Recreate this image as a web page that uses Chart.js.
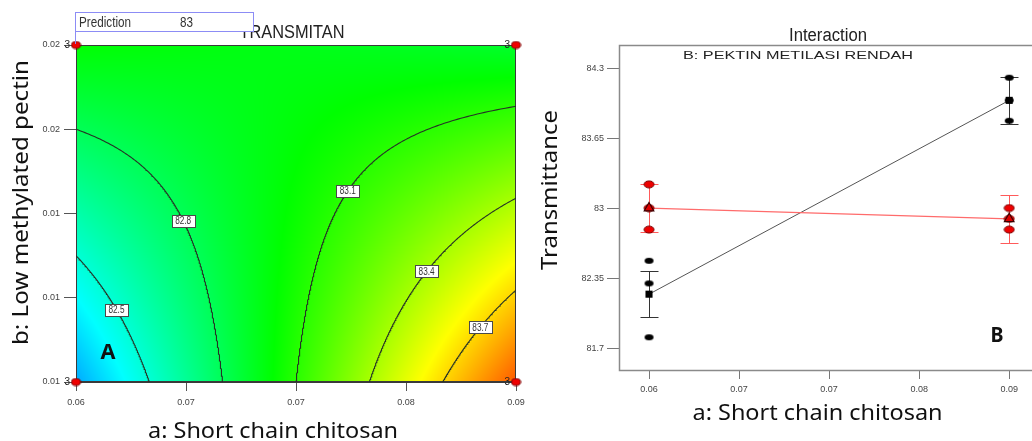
<!DOCTYPE html>
<html><head><meta charset="utf-8">
<script src="https://cdn.jsdelivr.net/npm/chart.js@4.4.0/dist/chart.umd.min.js"></script>
<style>
html,body{margin:0;padding:0;background:#fff;}
#wrap{position:relative;width:1032px;height:441px;overflow:hidden;background:#fff;}
#c1{position:absolute;left:0;top:0;}
#c2{position:absolute;left:520px;top:0;}
</style></head><body>
<div id="wrap"><canvas id="c1" width="545" height="441"></canvas><canvas id="c2" width="512" height="441"></canvas></div>
<script>
// ---------------- data ----------------
const chitosanLevels = [0.06, 0.09];          // a: Short chain chitosan (low, high)
const pectinLevels = [0.01, 0.02];            // b: Low methylated pectin (low, high)
const meanPectinLow = [82.2, 84.0];           // black series (B low) at a = 0.06, 0.09
const meanPectinHigh = [83.0, 82.9];          // red series (B high) at a = 0.06, 0.09
const obsPectinLow06 = [82.51, 82.30, 81.80];
const obsPectinLow09 = [84.21, 84.00, 83.81];
const obsPectinHigh06 = [83.22, 83.00, 82.80];
const obsPectinHigh09 = [83.00, 82.90, 82.80];
const lsdPectinLow = [0.215, 0.22];
const lsdPectinHigh = [0.22, 0.225];
const contourLevels = [82.5, 82.8, 83.1, 83.4, 83.7];
const contourLabelPectin = [0.01215, 0.01479, 0.01567, 0.01328, 0.01163];
const xTickValues = [0.06, 0.0675, 0.075, 0.0825, 0.09];
const xTickLabels = ['0.06', '0.07', '0.07', '0.08', '0.09'];
const yTickValuesA = [0.01, 0.0125, 0.015, 0.0175, 0.02];
const yTickLabelsA = ['0.01', '0.01', '0.01', '0.02', '0.02'];
const yTickValuesB = [81.7, 82.35, 83, 83.65, 84.3];
const yTickLabelsB = ['81.7', '82.35', '83', '83.65', '84.3'];
const predictionValue = '83';
// --------------------------------------

const allObs = [].concat(obsPectinLow06, obsPectinLow09, obsPectinHigh06, obsPectinHigh09);
const cMin = Math.min(...allObs), cMax = Math.max(...allObs);

function surface(a, b) {
  const u = (a - chitosanLevels[0]) / (chitosanLevels[1] - chitosanLevels[0]);
  const v = (b - pectinLevels[0]) / (pectinLevels[1] - pectinLevels[0]);
  return (1-u)*(1-v)*meanPectinLow[0] + u*(1-v)*meanPectinLow[1] + (1-u)*v*meanPectinHigh[0] + u*v*meanPectinHigh[1];
}
function chitosanForLevel(level, b) {
  const v = (b - pectinLevels[0]) / (pectinLevels[1] - pectinLevels[0]);
  const c0 = (1-v)*meanPectinLow[0] + v*meanPectinHigh[0];
  const c1 = (1-v)*(meanPectinLow[1]-meanPectinLow[0]) + v*(meanPectinHigh[1]-meanPectinHigh[0]);
  if (Math.abs(c1) < 1e-9) return null;
  const u = (level - c0) / c1;
  return chitosanLevels[0] + u*(chitosanLevels[1]-chitosanLevels[0]);
}
function contourPoints(level) {
  const pts = []; const n = 400; let started = false;
  for (let k = 0; k <= n; k++) {
    const b = pectinLevels[0] + (pectinLevels[1]-pectinLevels[0])*k/n;
    const a = chitosanForLevel(level, b);
    const ok = a !== null && a >= 0.057 && a <= 0.093;
    if (ok) { pts.push({x:a, y:b}); started = true; }
    else if (started) break;
  }
  return pts;
}
function colorFor(v) {
  let t = (v - cMin) / (cMax - cMin); t = Math.max(0, Math.min(1, t));
  const stops = [[0,0,255],[0,255,255],[0,255,0],[255,255,0],[255,0,0]];
  const s = t*4; const i = Math.min(3, Math.floor(s)); const f = s - i;
  return stops[i].map((c,k) => Math.round(c + (stops[i+1][k]-c)*f));
}
function sprite(w, h, fill, stroke) {
  const c = document.createElement('canvas'); c.width = w+2; c.height = h+2;
  const x = c.getContext('2d'); x.beginPath();
  x.ellipse((w+2)/2, (h+2)/2, w/2, h/2, 0, 0, Math.PI*2);
  x.fillStyle = fill; x.fill();
  if (stroke) { x.strokeStyle = stroke; x.lineWidth = 1; x.stroke(); }
  return c;
}
function fitText(ctx, text, x, y, font, color, width, align, rot) {
  ctx.save(); ctx.font = font; ctx.fillStyle = color; ctx.textBaseline = 'alphabetic';
  ctx.textAlign = align || 'center';
  const w = ctx.measureText(text).width;
  ctx.translate(x, y); if (rot) ctx.rotate(rot);
  if (width) ctx.scale(width / w, 1);
  ctx.fillText(text, 0, 0); ctx.restore();
}
const tickFont = {family: 'Liberation Sans', size: 9};
const bigFont = '"Noto Sans"';

function fixedTicks(values) { return s => { s.ticks = values.map(v => ({value: v})); }; }

// ---------- left: contour plot ----------
const heatmapPlugin = {
  id: 'heat',
  beforeDatasetsDraw(chart) {
    const {ctx, chartArea: ca, scales: {x, y}} = chart;
    const w = Math.round(ca.right - ca.left), h = Math.round(ca.bottom - ca.top);
    const off = document.createElement('canvas'); off.width = w; off.height = h;
    const octx = off.getContext('2d'); const img = octx.createImageData(w, h);
    for (let j = 0; j < h; j++) {
      const b = y.getValueForPixel(ca.top + j + 0.5);
      for (let i = 0; i < w; i++) {
        const a = x.getValueForPixel(ca.left + i + 0.5);
        const c = colorFor(surface(a, b)); const k = (j*w + i)*4;
        img.data[k] = c[0]; img.data[k+1] = c[1]; img.data[k+2] = c[2]; img.data[k+3] = 255;
      }
    }
    octx.putImageData(img, 0, 0);
    ctx.drawImage(off, ca.left, ca.top);
    ctx.save(); ctx.strokeStyle = '#3a3a3a'; ctx.lineWidth = 1;
    ctx.strokeRect(Math.round(ca.left)+0.5, Math.round(ca.top)+0.5, w-1, h-1);
    ctx.restore();
  },
  afterDatasetsDraw(chart) {
    const {ctx, scales: {x, y}} = chart;
    contourLevels.forEach((lv, i) => {
      const b = contourLabelPectin[i]; const a = chitosanForLevel(lv, b);
      const px = x.getPixelForValue(a), py = y.getPixelForValue(b);
      ctx.save();
      ctx.fillStyle = '#fff'; ctx.strokeStyle = '#4a4a4a'; ctx.lineWidth = 1;
      const bx = Math.round(px - 11.5) + 0.5, by = Math.round(py - 6) + 0.5;
      ctx.fillRect(bx, by, 23, 12); ctx.strokeRect(bx, by, 23, 12);
      ctx.restore();
      fitText(ctx, lv.toFixed(1), px, py + 3.5, '10px Liberation Sans', '#333', 16, 'center');
    });
    [[chitosanLevels[0], pectinLevels[1], obsPectinHigh06.length],
     [chitosanLevels[1], pectinLevels[1], obsPectinHigh09.length],
     [chitosanLevels[0], pectinLevels[0], obsPectinLow06.length],
     [chitosanLevels[1], pectinLevels[0], obsPectinLow09.length]].forEach(p => {
      const px = x.getPixelForValue(p[0]), py = y.getPixelForValue(p[1]);
      fitText(ctx, String(p[2]), px - 6, py + 3, '10px Liberation Sans', '#222', null, 'right');
    });
  },
  afterDraw(chart) {
    const ctx = chart.ctx;
    fitText(ctx, 'TRANSMITAN', 292, 38, '18px Liberation Sans', '#222', 105, 'center');
    ctx.save();
    ctx.fillStyle = '#fff'; ctx.fillRect(76, 12, 178, 19);
    ctx.strokeStyle = '#8c8cf5'; ctx.lineWidth = 1;
    ctx.strokeRect(75.5, 12.5, 178, 19);
    ctx.beginPath(); ctx.moveTo(75.5, 31); ctx.lineTo(75.5, 44); ctx.stroke();
    ctx.restore();
    fitText(ctx, 'Prediction', 79, 27, '15px Liberation Sans', '#333', 52, 'left');
    fitText(ctx, predictionValue, 180, 27, '15px Liberation Sans', '#333', 13, 'left');
    fitText(ctx, 'b: Low methylated pectin', 28, 202.5, '22px ' + bigFont, '#111', 285, 'center', -Math.PI/2);
    fitText(ctx, 'a: Short chain chitosan', 273, 438, '22px ' + bigFont, '#111', 250, 'center');
    fitText(ctx, 'A', 108, 359, 'bold 22px ' + bigFont, '#111', 15, 'center');
  }
};

const contourDatasets = contourLevels.map((lv, i) => ({
  label: 'Transmitan ' + lv,
  data: contourPoints(lv),
  showLine: true, pointRadius: 0, borderColor: '#263326', borderWidth: 1.1, order: 2 + i
}));
const designDataset = {
  label: 'Design points',
  data: [
    {x: chitosanLevels[0], y: pectinLevels[0]}, {x: chitosanLevels[1], y: pectinLevels[0]},
    {x: chitosanLevels[0], y: pectinLevels[1]}, {x: chitosanLevels[1], y: pectinLevels[1]}
  ],
  pointStyle: sprite(9, 7, '#ee0000', '#7a0000'), pointRadius: 5, clip: false, order: 0
};

function makeLeft() {
  new Chart(document.getElementById('c1'), {
    type: 'scatter',
    data: {datasets: [designDataset, ...contourDatasets]},
    options: {
      responsive: false, animation: false, devicePixelRatio: 1, events: [],
      layout: {padding: {left: 0, top: 45, right: 29, bottom: 0}, autoPadding: false},
      plugins: {legend: {display: false}, tooltip: {enabled: false}, title: {display: false}},
      scales: {
        x: {
          type: 'linear', min: chitosanLevels[0], max: chitosanLevels[1],
          afterBuildTicks: fixedTicks(xTickValues),
          afterFit: s => { s.height = 59; s.paddingLeft = 0; s.paddingRight = 0; },
          ticks: {callback: (v, i) => xTickLabels[i], font: tickFont, color: '#444', padding: 6, maxRotation: 0, autoSkip: false},
          grid: {drawOnChartArea: false, drawTicks: true, tickLength: 9, color: '#555'},
          border: {display: true, color: '#3a3a3a'}
        },
        y: {
          type: 'linear', min: pectinLevels[0], max: pectinLevels[1],
          afterBuildTicks: fixedTicks(yTickValuesA),
          afterFit: s => { s.width = 76; s.paddingTop = 0; s.paddingBottom = 0; },
          ticks: {callback: (v, i) => yTickLabelsA[i], font: tickFont, color: '#444', padding: 4, autoSkip: false},
          grid: {drawOnChartArea: false, drawTicks: true, tickLength: 12, color: '#555'},
          border: {display: true, color: '#3a3a3a'}
        }
      }
    },
    plugins: [heatmapPlugin]
  });
}

// ---------- right: interaction plot ----------
const interactionPlugin = {
  id: 'inter',
  beforeDatasetsDraw(chart) {
    const {ctx, chartArea: ca, scales: {x, y}} = chart;
    ctx.save(); ctx.strokeStyle = '#8a8a8a'; ctx.lineWidth = 1.5;
    ctx.beginPath();
    ctx.moveTo(chart.width, ca.top + 0.5); ctx.lineTo(ca.left + 0.5, ca.top + 0.5);
    ctx.lineTo(ca.left + 0.5, ca.bottom + 0.5); ctx.lineTo(chart.width, ca.bottom + 0.5);
    ctx.stroke(); ctx.restore();
    const bars = [
      [meanPectinLow, lsdPectinLow, '#333333', 1],
      [meanPectinHigh, lsdPectinHigh, '#ff5a5a', 1]
    ];
    bars.forEach(([means, lsd, col, lw]) => {
      means.forEach((m, i) => {
        const px = Math.round(x.getPixelForValue(chitosanLevels[i])) + 0.5;
        const yt = Math.round(y.getPixelForValue(m + lsd[i])) + 0.5;
        const yb = Math.round(y.getPixelForValue(m - lsd[i])) + 0.5;
        ctx.save(); ctx.strokeStyle = col; ctx.lineWidth = lw; ctx.beginPath();
        ctx.moveTo(px, yt); ctx.lineTo(px, yb);
        ctx.moveTo(px - 9, yt); ctx.lineTo(px + 9, yt);
        ctx.moveTo(px - 9, yb); ctx.lineTo(px + 9, yb);
        ctx.stroke(); ctx.restore();
      });
    });
  },
  afterDraw(chart) {
    const ctx = chart.ctx;
    fitText(ctx, 'Interaction', 308, 41, '18px Liberation Sans', '#222', 78, 'center');
    fitText(ctx, 'B: PEKTIN METILASI RENDAH', 278, 59, '11px Liberation Sans', '#222', 230, 'center');
    fitText(ctx, 'Transmittance', 37, 190, '22px ' + bigFont, '#111', 160, 'center', -Math.PI/2);
    fitText(ctx, 'a: Short chain chitosan', 297.5, 420, '22px ' + bigFont, '#111', 250, 'center');
    fitText(ctx, 'B', 477, 342, 'bold 22px ' + bigFont, '#111', 13, 'center');
  }
};

function obsPoints(level, vals) { return vals.map(v => ({x: level, y: v})); }

function makeRight() {
  new Chart(document.getElementById('c2'), {
    type: 'scatter',
    data: {datasets: [
      {label: 'B+ mean', data: meanPectinHigh.map((m, i) => ({x: chitosanLevels[i], y: m})),
       pointStyle: 'triangle', pointRadius: 5.5, backgroundColor: '#e00000', borderColor: '#3a0000', borderWidth: 1.2, order: 0},
      {label: 'B+ runs', data: obsPoints(chitosanLevels[0], obsPectinHigh06).concat(obsPoints(chitosanLevels[1], obsPectinHigh09)),
       pointStyle: sprite(10, 7, '#ee0000', '#7a0000'), pointRadius: 5, order: 1},
      {label: 'B- mean', data: meanPectinLow.map((m, i) => ({x: chitosanLevels[i], y: m})),
       pointStyle: 'rect', pointRadius: 5, backgroundColor: '#000', borderColor: '#000', borderWidth: 0, order: 2},
      {label: 'B- runs', data: obsPoints(chitosanLevels[0], obsPectinLow06).concat(obsPoints(chitosanLevels[1], obsPectinLow09)),
       pointStyle: sprite(9, 6, '#000', null), pointRadius: 5, order: 3},
      {label: 'B+ line', data: meanPectinHigh.map((m, i) => ({x: chitosanLevels[i], y: m})),
       showLine: true, pointRadius: 0, borderColor: '#ff6b6b', borderWidth: 1.3, order: 4},
      {label: 'B- line', data: meanPectinLow.map((m, i) => ({x: chitosanLevels[i], y: m})),
       showLine: true, pointRadius: 0, borderColor: '#555', borderWidth: 1, order: 5}
    ]},
    options: {
      responsive: false, animation: false, devicePixelRatio: 1, events: [],
      layout: {padding: {left: 0, top: 45, right: 0, bottom: 0}, autoPadding: false},
      plugins: {legend: {display: false}, tooltip: {enabled: false}, title: {display: false}},
      scales: {
        x: {
          type: 'linear', min: 0.0575, max: 0.0919,
          afterBuildTicks: fixedTicks(xTickValues),
          afterFit: s => { s.height = 71; s.paddingLeft = 0; s.paddingRight = 0; },
          ticks: {callback: (v, i) => xTickLabels[i], font: tickFont, color: '#444', padding: 5, maxRotation: 0, autoSkip: false},
          grid: {drawOnChartArea: false, drawTicks: true, tickLength: 9, color: '#777'},
          border: {display: false}
        },
        y: {
          type: 'linear', min: 81.496, max: 84.514,
          afterBuildTicks: fixedTicks(yTickValuesB),
          afterFit: s => { s.width = 99; s.paddingTop = 0; s.paddingBottom = 0; },
          ticks: {callback: (v, i) => yTickLabelsB[i], font: tickFont, color: '#444', padding: 3, autoSkip: false},
          grid: {drawOnChartArea: false, drawTicks: true, tickLength: 12, color: '#777'},
          border: {display: false}
        }
      }
    },
    plugins: [interactionPlugin]
  });
}

const fontsReady = (document.fonts && document.fonts.load)
  ? Promise.all(['22px "Noto Sans"', 'bold 22px "Noto Sans"', '10px "Liberation Sans"'].map(f => document.fonts.load(f).catch(() => null)))
  : Promise.resolve();
Promise.race([fontsReady, new Promise(r => setTimeout(r, 1500))]).then(() => { makeLeft(); makeRight(); });
</script>
</body></html>
